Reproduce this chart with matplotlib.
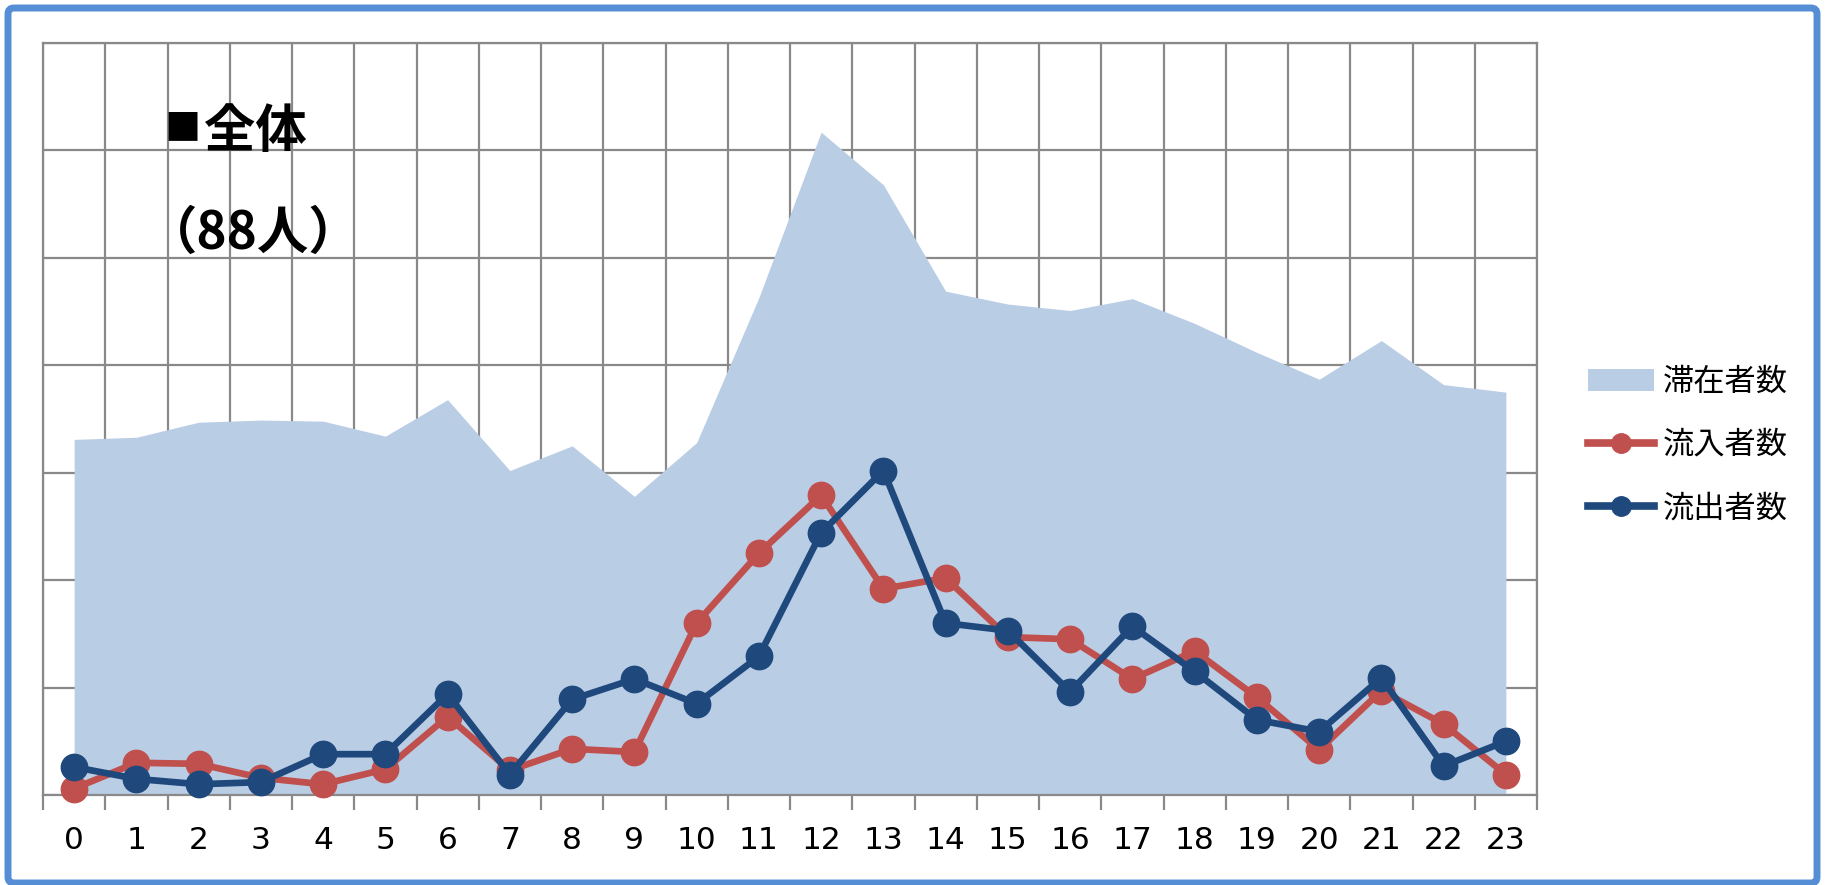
import matplotlib

matplotlib.use("Agg")
import matplotlib.pyplot as plt
from matplotlib.patches import FancyBboxPatch, Patch
from matplotlib.lines import Line2D


HOURS = [str(h) for h in range(24)]
STAY = [33.1, 33.3, 34.7, 34.9, 34.8, 33.4, 36.8, 30.2, 32.5, 27.8, 32.8, 46.3,
        61.7, 56.8, 46.9, 45.7, 45.1, 46.2, 43.9, 41.2, 38.7, 42.3, 38.2, 37.5]
INFLOW = [0.6, 3.0, 2.9, 1.6, 1.0, 2.4, 7.3, 2.3, 4.3, 4.0, 16.0, 22.5,
          27.9, 19.2, 20.2, 14.7, 14.5, 10.8, 13.4, 9.1, 4.2, 9.7, 6.6, 1.9]
OUTFLOW = [2.6, 1.5, 1.0, 1.2, 3.8, 3.8, 9.4, 1.9, 8.9, 10.8, 8.5, 12.9,
           24.4, 30.2, 16.0, 15.3, 9.6, 15.7, 11.5, 7.0, 5.9, 10.9, 2.7, 5.0]
LABELS = ["滞在者数", "流入者数", "流出者数"]
BULLET = "■"
TITLE = "全体"
SUBTITLE = "（88人）"

AREA_COLOR = "#B9CDE5"
RED = "#C0504D"
BLUE = "#1F497D"
GRID = "#898989"
FRAME = "#558ED5"
JP_FONT = ["Noto Sans CJK JP", "DejaVu Sans"]

W, H = 1825, 885


def px(x, y):
    # pixel position (from top-left) to figure fraction
    return x / W, 1 - y / H


def main():
    fig = plt.figure(figsize=(W / 100, H / 100), dpi=100)
    left, right, top, bottom = 43, 1537, 43, 795
    ax = fig.add_axes([left / W, 1 - bottom / H, (right - left) / W, (bottom - top) / H])

    x = [i + 0.5 for i in range(len(HOURS))]
    ax.fill_between(x, STAY, 0, color=AREA_COLOR, linewidth=0, zorder=2)
    ax.plot(x, INFLOW, color=RED, lw=4.8, marker="o", ms=19, zorder=3, clip_on=False)
    ax.plot(x, OUTFLOW, color=BLUE, lw=4.8, marker="o", ms=19, zorder=4, clip_on=False)

    ax.set_xlim(0, 24)
    ax.set_ylim(0, 70)
    ax.set_xticks(range(25))
    ax.set_xticklabels([])
    ax.set_xticks(x, minor=True)
    ax.set_xticklabels(HOURS, minor=True, fontsize=22.5, family="DejaVu Sans")
    ax.set_yticks(range(0, 71, 10))
    ax.set_yticklabels([])
    ax.tick_params(axis="x", which="major", length=11, width=1.6, color=GRID, direction="out")
    ax.tick_params(axis="x", which="minor", length=0, pad=22)
    ax.tick_params(axis="y", length=0)
    ax.set_axisbelow(True)
    ax.grid(True, which="major", color=GRID, lw=1.6)
    for side in ax.spines.values():
        side.set_color(GRID)
        side.set_linewidth(1.6)

    fig.text(*px(164, 129), BULLET, family=JP_FONT, fontsize=26, fontweight="bold",
             va="center", ha="left")
    fig.text(*px(204, 131), TITLE, family=JP_FONT, fontsize=37, fontweight="bold",
             va="center", ha="left")
    fig.text(*px(146, 233), SUBTITLE, family=JP_FONT, fontsize=37, fontweight="bold",
             va="center", ha="left")

    handles = [
        Patch(facecolor=AREA_COLOR, edgecolor="none"),
        Line2D([], [], color=RED, lw=5.5, marker="o", ms=14),
        Line2D([], [], color=BLUE, lw=5.5, marker="o", ms=14),
    ]
    fig.legend(handles, LABELS, loc="center left", bbox_to_anchor=px(1588, 445),
               frameon=False, prop={"family": JP_FONT, "size": 22.5},
               handlelength=2.1, handletextpad=0.3, labelspacing=1.0,
               borderpad=0, borderaxespad=0)

    frame = FancyBboxPatch((8, 2), W - 16, H - 10, boxstyle="round,pad=0,rounding_size=6",
                           transform=None, facecolor="none", edgecolor=FRAME,
                           linewidth=5, zorder=10)
    fig.patches.append(frame)

    fig.savefig("out.png", dpi=100)


if __name__ == "__main__":
    main()
